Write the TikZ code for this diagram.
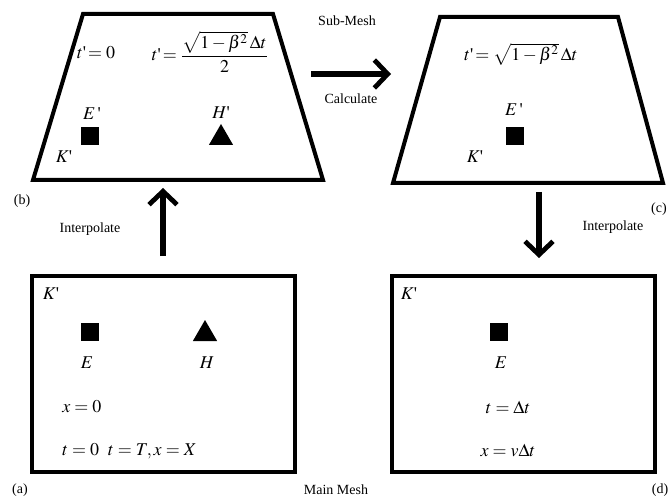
\documentclass[tikz,border=0pt]{standalone}
\usepackage{mathptmx}
\usepackage{fontspec}
\setmainfont{Liberation Serif}
\usetikzlibrary{arrows.meta,shapes.geometric}
\newcommand{\pr}{\mbox{\textquotesingle}}
\tikzset{
  frame/.style={line width=3pt, line join=miter},
  bigarrow/.style={line width=3.8pt, -{Straight Barb[length=10pt,width=21pt,line width=3.6pt]}},
  plain/.style={font=\fontsize{10.5}{12}\selectfont, inner sep=0pt},
  mth/.style={font=\fontsize{13.5}{15}\selectfont, inner sep=0pt},
  sq/.style={fill=black, minimum size=14pt, inner sep=0pt},
  tri/.style={fill=black, regular polygon, regular polygon sides=3, minimum size=21pt, inner sep=0pt}
}
\begin{document}
\begin{tikzpicture}[x=0.75pt,y=-0.75pt]
\useasboundingbox (0,0) rectangle (670,502);
% (b) trapezoid
\draw[frame] (83,14) -- (273,14) -- (323,180) -- (33,180) -- cycle;
\node[mth] (b1) at (96,53) {$t\pr\!=0$};
\node[mth] (b2) at (210,52) {$\displaystyle t\pr\!=\frac{\sqrt{1-\beta^{2}}\,\Delta t}{2}$};
\node[mth] (bE) at (92,114) {$E\,\pr$};
\node[sq] (bsq) at (90,136) {};
\node[mth] (bH) at (221,113) {$H\pr$};
\node[tri] (btri) at (221,138) {};
\node[mth] (bK) at (64,157) {$K\pr$};
\node[plain] (lb) at (22,201) {(b)};
% (c) trapezoid
\draw[frame] (440,17) -- (618,17) -- (663,183) -- (393,183) -- cycle;
\node[mth] (c1) at (521,54) {$t\pr\!=\sqrt{1-\beta^{2}}\,\Delta t$};
\node[mth] (cE) at (514,110) {$E\,\pr$};
\node[sq] (csq) at (515,136) {};
\node[mth] (cK) at (475,157) {$K\pr$};
\node[plain] (lc) at (659,209) {(c)};
% (a) rectangle
\draw[frame] (32,276) rectangle (295,472);
\node[mth] (aK) at (51,294) {$K\pr$};
\node[sq] (asq) at (90,332) {};
\node[tri] (atri) at (205,334) {};
\node[mth] (aE) at (87,363) {$E$};
\node[mth] (aH) at (207,363) {$H$};
\node[mth, anchor=west] (ax) at (62,407) {$x=0$};
\node[mth, anchor=west] (at) at (62,451) {$t=0\ \ t=T,x=X$};
\node[plain] (la) at (20,490) {(a)};
% (d) rectangle
\draw[frame] (392,276) rectangle (655,472);
\node[mth] (dK) at (409,294) {$K\pr$};
\node[sq] (dsq) at (499,332) {};
\node[mth] (dE) at (501,363) {$E$};
\node[mth] (dt) at (508,407) {$t=\Delta t$};
\node[mth] (dx) at (508,451) {$x=v\Delta t$};
\node[plain] (ld) at (660,490) {(d)};
% labels
\node[plain] (sub) at (347,21) {Sub-Mesh};
\node[plain] (calc) at (351,99) {Calculate};
\node[plain] (int1) at (90,229) {Interpolate};
\node[plain] (int2) at (613,227) {Interpolate};
\node[plain] (main) at (336,490) {Main Mesh};
% arrows
\coordinate (a1s) at (163,256);
\coordinate (a1e) at (163,188);
\coordinate (a2s) at (311,74);
\coordinate (a2e) at (391,74);
\coordinate (a3s) at (539,192);
\coordinate (a3e) at (539,258);
\draw[bigarrow] (a1s) -- (a1e);
\draw[bigarrow] (a2s) -- (a2e);
\draw[bigarrow] (a3s) -- (a3e);
\end{tikzpicture}
\end{document}
